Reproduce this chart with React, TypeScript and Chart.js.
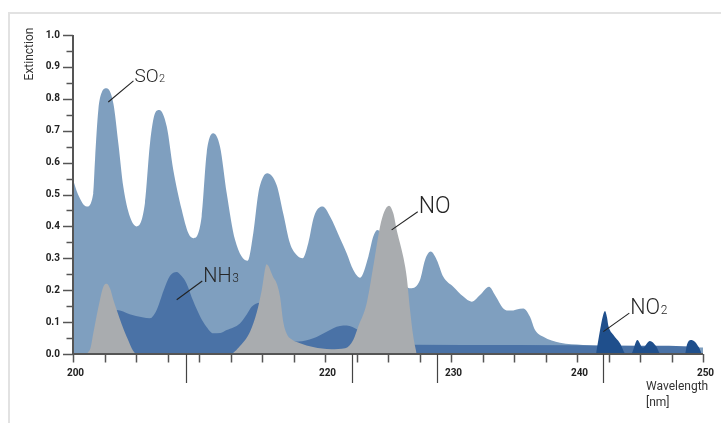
import React, { useEffect, useRef } from "react";
import { Chart, registerables } from "chart.js";

Chart.register(...registerables);

// ---- data ----
const so2Wavelength = [
  200.0, 200.4, 201.09, 201.61, 201.75, 202.01, 202.28, 202.67, 203.2, 203.6, 203.99, 204.52, 205.06,
  205.71, 206.11, 206.51, 206.85, 207.44, 207.96, 208.63, 209.15, 209.55, 210.21, 210.61, 211.13,
  211.67, 212.2, 212.86, 213.87, 214.31, 214.71, 215.1, 215.42, 216.16, 216.69, 217.22, 217.75,
  218.23, 218.67, 219.13, 219.82, 220.4, 221.19, 221.72, 222.25, 222.78, 223.44, 223.83, 224.15,
  225.16, 225.95, 226.8, 227.54, 227.94, 228.39, 228.87, 229.39, 230.18, 230.98, 231.64, 232.3,
  233.02, 233.49, 234.15, 234.68, 235.74, 236.27, 236.67, 237.33, 238.65, 240.48, 241.56, 250.0,
];
const so2Extinction = [
  0.546, 0.5, 0.462, 0.504, 0.61, 0.765, 0.82, 0.833, 0.786, 0.66, 0.525, 0.43, 0.4,
  0.473, 0.66, 0.755, 0.765, 0.713, 0.577, 0.452, 0.379, 0.363, 0.431, 0.63, 0.692,
  0.65, 0.504, 0.358, 0.292, 0.379, 0.504, 0.556, 0.567, 0.53, 0.44, 0.347, 0.31,
  0.3, 0.347, 0.431, 0.462, 0.431, 0.363, 0.316, 0.263, 0.239, 0.305, 0.368, 0.389,
  0.33, 0.24, 0.206, 0.232, 0.295, 0.321, 0.295, 0.242, 0.211, 0.18, 0.164, 0.185,
  0.211, 0.185, 0.143, 0.136, 0.143, 0.117, 0.075, 0.054, 0.035, 0.028, 0.025, 0.02,
];

const nh3Wavelength = [
  201.35, 202.0, 202.7, 203.47, 204.5, 205.5, 206.11, 206.64, 207.2, 207.7, 208.22, 208.6, 209.0,
  209.55, 210.1, 210.6, 211.13, 211.7, 212.2, 213.25, 213.8, 214.18, 214.84, 215.5, 216.5, 217.3,
  217.88, 219.07, 220.13, 221.19, 221.72, 222.64, 224.0, 225.5, 227.0, 235.0, 245.0, 249.6, 249.9,
];
const nh3Extinction = [
  0.0, 0.04, 0.11, 0.138, 0.125, 0.115, 0.112, 0.138, 0.2, 0.245, 0.257, 0.245, 0.222,
  0.165, 0.117, 0.085, 0.065, 0.066, 0.075, 0.096, 0.125, 0.148, 0.161, 0.14, 0.08, 0.045,
  0.039, 0.049, 0.07, 0.088, 0.089, 0.075, 0.05, 0.034, 0.029, 0.028, 0.026, 0.023, 0.0,
];

const noWavelength = [
  201.09, 201.4, 201.61, 202.14, 202.4, 202.67, 202.94, 203.2, 203.47, 204.26, 205.06,
  212.46, 213.25, 214.05, 214.58, 214.98, 215.37, 215.9, 216.16, 216.43, 216.69, 217.0, 217.4,
  218.02, 219.05, 220.5, 221.6, 222.25, 222.64, 223.31, 223.83, 224.37, 224.7, 225.08, 225.42,
  225.69, 226.21, 226.48, 226.75, 227.01, 227.28,
];
const noExtinction = [
  0.0, 0.02, 0.065, 0.17, 0.21, 0.22, 0.205, 0.17, 0.138, 0.054, 0.0,
  0.0, 0.025, 0.07, 0.13, 0.2, 0.281, 0.24, 0.222, 0.18, 0.1, 0.06, 0.045,
  0.034, 0.022, 0.015, 0.018, 0.045, 0.086, 0.159, 0.274, 0.4, 0.446, 0.465, 0.441,
  0.389, 0.305, 0.243, 0.138, 0.054, 0.0,
];

const no2Wavelength = [
  241.51, 241.83, 242.06, 242.22, 242.38, 242.48, 242.88, 243.41, 243.89, 244.29, 244.79,
  245.22, 245.79, 246.27, 246.64, 248.57, 248.73, 249.03, 249.37, 249.68, 249.89,
];
const no2Extinction = [
  0.0, 0.075, 0.12, 0.135, 0.115, 0.09, 0.06, 0.034, 0.0, 0.0, 0.044,
  0.02, 0.041, 0.025, 0.0, 0.0, 0.03, 0.044, 0.038, 0.02, 0.0,
];

const xTickLabels = [200, 220, 230, 240, 250];
const yTickLabels = [0, 0.1, 0.2, 0.3, 0.4, 0.5, 0.6, 0.7, 0.8, 0.9, 1.0];
const markerWavelengths = [208.94, 222.17, 228.87, 242.09];

const labelTexts = ["SO₂", "NH₃", "NO", "NO₂"];
const labelSizes = [19, 20, 23, 21.5];
const leaderStartWl = [202.8, 208.23, 225.29, 242.09];
const leaderStartExt = [0.79, 0.17, 0.389, 0.07];
const leaderEndWl = [204.8, 210.26, 227.36, 244.15];
const leaderEndExt = [0.856, 0.229, 0.446, 0.128];

const SUBS: Record<string, string> = {
  "₀": "0", "₁": "1", "₂": "2", "₃": "3", "₄": "4", "₅": "5", "₆": "6", "₇": "7", "₈": "8", "₉": "9",
};

const zip = (xs: number[], ys: number[]) => xs.map((x, i) => ({ x, y: ys[i] }));

const overlayPlugin = {
  id: "overlay",
  afterDatasetsDraw(chart: any) {
    const { ctx, scales } = chart;
    const xs = scales.x;
    const ys = scales.y;
    const bottom = ys.getPixelForValue(0);
    const top = ys.getPixelForValue(1);
    const left = xs.getPixelForValue(200);
    const right = xs.getPixelForValue(250);
    ctx.save();

    // tick marks x
    ctx.strokeStyle = "#555";
    ctx.lineWidth = 1.5;
    for (let v = 200; v <= 250.001; v += 2.5) {
      const px = Math.round(xs.getPixelForValue(v)) + 0.5;
      ctx.beginPath();
      ctx.moveTo(px, bottom);
      ctx.lineTo(px, bottom + 8.5);
      ctx.stroke();
    }
    // tick labels x (slightly right of their ticks, as in the reference)
    ctx.fillStyle = "#222";
    ctx.font = "bold 10px Roboto";
    ctx.textAlign = "center";
    ctx.textBaseline = "middle";
    xTickLabels.forEach((v) => {
      ctx.fillText(String(v), xs.getPixelForValue(v) + 2.5, bottom + 19.5);
    });

    // tick marks y
    for (let i = 0; i <= 20; i++) {
      const py = Math.round(ys.getPixelForValue(i * 0.05)) + 0.5;
      const len = i % 2 === 0 ? 10 : 6.5;
      ctx.beginPath();
      ctx.moveTo(left - len, py);
      ctx.lineTo(left, py);
      ctx.stroke();
    }
    // axis lines
    ctx.lineWidth = 2;
    ctx.beginPath();
    ctx.moveTo(left, top);
    ctx.lineTo(left, bottom);
    ctx.lineTo(right, bottom);
    ctx.stroke();

    // long marker lines under the axis
    ctx.lineWidth = 1.2;
    ctx.strokeStyle = "#444";
    markerWavelengths.forEach((w) => {
      const px = Math.round(xs.getPixelForValue(w)) + 0.5;
      ctx.beginPath();
      ctx.moveTo(px, bottom);
      ctx.lineTo(px, bottom + 29);
      ctx.stroke();
    });

    // leaders + labels
    labelTexts.forEach((t, i) => {
      const x1 = xs.getPixelForValue(leaderStartWl[i]);
      const y1 = ys.getPixelForValue(leaderStartExt[i]);
      const x2 = xs.getPixelForValue(leaderEndWl[i]);
      const y2 = ys.getPixelForValue(leaderEndExt[i]);
      ctx.strokeStyle = "#222";
      ctx.lineWidth = 1.1;
      ctx.beginPath();
      ctx.moveTo(x1, y1);
      ctx.lineTo(x2, y2);
      ctx.stroke();
      let main = "";
      let sub = "";
      for (const ch of t) {
        if (SUBS[ch]) sub += SUBS[ch];
        else main += ch;
      }
      const size = labelSizes[i];
      ctx.fillStyle = "#262626";
      ctx.textBaseline = "alphabetic";
      ctx.textAlign = "left";
      ctx.font = `300 ${size}px Roboto`;
      ctx.fillText(main, x2 + 1, y2 + 1);
      if (sub) {
        const w = ctx.measureText(main).width;
        ctx.font = `300 ${Math.round(size * 0.58)}px Roboto`;
        ctx.fillText(sub, x2 + 1.5 + w, y2 + 1);
      }
    });

    // axis titles
    ctx.fillStyle = "#333";
    ctx.font = "12px Roboto";
    ctx.textAlign = "left";
    ctx.textBaseline = "alphabetic";
    ctx.fillText("Wavelength", right - 57, bottom + 36);
    ctx.fillText("[nm]", right - 57, bottom + 51.5);

    ctx.translate(left - 40, top + 19);
    ctx.rotate(-Math.PI / 2);
    ctx.textAlign = "center";
    ctx.fillText("Extinction", 0, 0);
    ctx.restore();
  },
};

export default function App() {
  const canvasRef = useRef<HTMLCanvasElement | null>(null);

  useEffect(() => {
    if (!canvasRef.current) return;
    const tickFont = { family: "Roboto", size: 10, weight: "bold" as const };
    const chart = new Chart(canvasRef.current, {
      type: "line",
      data: {
        datasets: [
          {
            label: "NO₂",
            data: zip(no2Wavelength, no2Extinction),
            backgroundColor: "#1f4f8c",
          },
          {
            label: "NO",
            data: zip(noWavelength, noExtinction),
            backgroundColor: "#a9acaf",
          },
          {
            label: "NH₃",
            data: zip(nh3Wavelength, nh3Extinction),
            backgroundColor: "#4a72a6",
          },
          {
            label: "SO₂",
            data: zip(so2Wavelength, so2Extinction),
            backgroundColor: "#7f9fbf",
          },
        ].map((d) => ({
          ...d,
          fill: "origin",
          borderWidth: 0,
          borderColor: "rgba(0,0,0,0)",
          pointRadius: 0,
          pointHoverRadius: 0,
          cubicInterpolationMode: "monotone" as const,
        })),
      },
      options: {
        animation: false,
        responsive: false,
        events: [],
        layout: { padding: { top: 35, right: 18, left: 0, bottom: 0 } },
        plugins: { legend: { display: false }, tooltip: { enabled: false } },
        scales: {
          x: {
            type: "linear",
            min: 200,
            max: 250,
            grid: { display: false, drawTicks: false },
            border: { display: false },
            ticks: { display: false, stepSize: 2.5 },
            afterFit: (s: any) => {
              s.height = 69;
            },
          },
          y: {
            type: "linear",
            min: 0,
            max: 1,
            grid: { display: false, drawTicks: false },
            border: { display: false },
            ticks: {
              stepSize: 0.05,
              autoSkip: false,
              padding: 13,
              color: "#222",
              font: tickFont,
              callback: (v: any) => {
                const n = Number(v);
                const hit = yTickLabels.find((t) => Math.abs(t - n) < 1e-6);
                return hit === undefined ? "" : hit.toFixed(1);
              },
            },
            afterFit: (s: any) => {
              s.width = 73;
            },
          },
        },
      },
      plugins: [overlayPlugin],
    });
    return () => chart.destroy();
  }, []);

  return (
    <div>
      <div
        style={{
          position: "fixed",
          top: 12,
          left: 8,
          width: 2000,
          height: 2000,
          borderTop: "2px solid #e2e2e2",
          borderLeft: "2px solid #e2e2e2",
        }}
      />
      <canvas
        ref={canvasRef}
        width={721}
        height={423}
        style={{ position: "fixed", top: 0, left: 0, width: 721, height: 423 }}
      />
    </div>
  );
}
